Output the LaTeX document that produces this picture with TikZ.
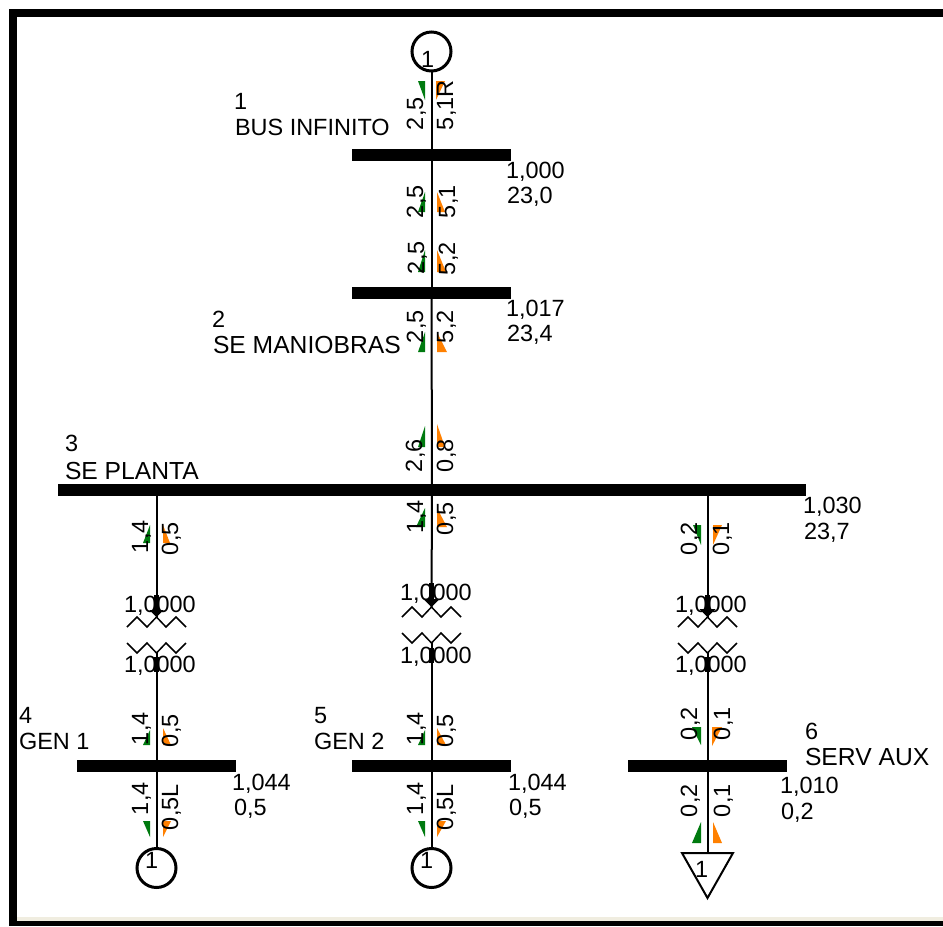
\documentclass[tikz,border=0pt]{standalone}
\usepackage{fontspec}
\setmainfont{Liberation Sans}
\usetikzlibrary{arrows.meta}
\newlength{\du}
\setlength{\du}{0.75pt}
\definecolor{flowgreen}{rgb}{0.000000, 0.480000, 0.060000}
\definecolor{floworange}{rgb}{1.000000, 0.500000, 0.000000}
\definecolor{stripcolor}{rgb}{0.940000, 0.930000, 0.880000}
\tikzset{
  busbar/.style={fill=black,inner sep=0pt,outer sep=0pt,minimum width=159\du,minimum height=12\du},
  machine/.style={circle,draw=black,line width=3\du,fill=none,inner sep=0pt,outer sep=0pt,minimum size=39\du},
  feeder/.style={draw=black,line width=2\du},
  winding/.style={draw=black,line width=1.5\du},
  tapmark/.style={draw=black,line width=5\du},
  tapside/.style={tapmark,-{Triangle[width=10.5pt,length=5.25pt]}},
  tapmid/.style={tapmark,-{Triangle[width=12pt,length=6pt]}},
  labeltext/.style={anchor=base west,inner sep=0pt,outer sep=0pt,font=\fontsize{17.6}{19}\selectfont},
  nametext/.style={labeltext,font=\fontsize{18.5}{20}\selectfont},
  flowtext/.style={labeltext,rotate=90},
}
\begin{document}
\begin{tikzpicture}[x=\du,y=-\du]
\useasboundingbox (0,0) rectangle (943,926);
% frame
\fill[stripcolor] (17,917) rectangle (943,921);
\fill[black] (9,9) rectangle (943,17);
\fill[black] (9,9) rectangle (17,926);
\fill[black] (9,921) rectangle (943,926);
% flows
\fill[flowgreen] (418,81) -- (425,81) -- (425,100) -- cycle;
\fill[floworange] (436,81) -- (445,81) -- (436,100) -- cycle;
\fill[flowgreen] (425,192) -- (425,212) -- (418,212) -- cycle;
\fill[floworange] (437,192) -- (445,212) -- (437,212) -- cycle;
\fill[flowgreen] (425,250) -- (425,272) -- (418,272) -- cycle;
\fill[floworange] (437,250) -- (446,272) -- (437,272) -- cycle;
\fill[flowgreen] (425,332) -- (425,352) -- (418,352) -- cycle;
\fill[floworange] (437,332) -- (447,352) -- (437,352) -- cycle;
\fill[flowgreen] (425,426) -- (425,447) -- (418,447) -- cycle;
\fill[floworange] (437,424) -- (445,447) -- (437,447) -- cycle;
\fill[flowgreen] (425,508) -- (425,527) -- (416,527) -- cycle;
\fill[floworange] (437,508) -- (447,527) -- (437,527) -- cycle;
\fill[flowgreen] (150,525) -- (150,543) -- (143,543) -- cycle;
\fill[floworange] (163,525) -- (170,543) -- (163,543) -- cycle;
\fill[flowgreen] (693,525) -- (701,525) -- (701,545) -- cycle;
\fill[floworange] (713,525) -- (722,525) -- (713,545) -- cycle;
\fill[flowgreen] (150,730) -- (150,745) -- (143,745) -- cycle;
\fill[floworange] (163,728) -- (171,745) -- (163,745) -- cycle;
\fill[flowgreen] (425,730) -- (425,745) -- (418,745) -- cycle;
\fill[floworange] (437,728) -- (446,745) -- (437,745) -- cycle;
\fill[flowgreen] (692,727) -- (701,727) -- (701,745) -- cycle;
\fill[floworange] (712,727) -- (722,727) -- (712,746) -- cycle;
\fill[flowgreen] (143,821) -- (150,821) -- (150,837) -- cycle;
\fill[floworange] (163,821) -- (171,821) -- (163,837) -- cycle;
\fill[flowgreen] (418,821) -- (425,821) -- (425,837) -- cycle;
\fill[floworange] (437,821) -- (446,821) -- (437,837) -- cycle;
\fill[flowgreen] (701,822) -- (701,843) -- (692,843) -- cycle;
\fill[floworange] (713,822) -- (722,843) -- (713,843) -- cycle;
% buses and machines
\node[busbar] (bus1) at (431.5,155) {};
\node[busbar] (bus2) at (431.5,292.5) {};
\node[busbar,minimum width=748\du] (bus3) at (432,490) {};
\node[busbar] (bus4) at (156.5,766) {};
\node[busbar] (bus5) at (431.5,766) {};
\node[busbar] (bus6) at (707.5,766) {};
\node[machine] (gen0) at (431.5,51.5) {};
\node[machine] (gen1) at (156.5,868) {};
\node[machine] (gen2) at (431.5,868) {};
\coordinate (load6) at (707.5,853);
\draw[feeder,line join=miter] (682,853) -- (733,853) -- (707.5,898) -- cycle;
% transformers
\coordinate (xfa1) at (156.5,617);
\coordinate (xfb1) at (156.5,653);
\coordinate (xfa2) at (431.5,607);
\coordinate (xfb2) at (431.5,643);
\coordinate (xfa3) at (707.5,617);
\coordinate (xfb3) at (707.5,653);
\coordinate (tapa1) at (156.5,595);
\coordinate (tapa2) at (431.5,583);
\coordinate (tapa3) at (707.5,595);
\coordinate (tapb1) at (156.5,672);
\coordinate (tapb1s) at (156.5,657);
\coordinate (tapb2) at (431.5,663);
\coordinate (tapb2s) at (431.5,648);
\coordinate (tapb3) at (707.5,672);
\coordinate (tapb3s) at (707.5,657);
\draw[winding] (127,627) -- (137,617) -- (147,627) -- (156.5,617) -- (166,627) -- (176,617) -- (186,627);
\draw[winding] (127,643) -- (137,653) -- (147,643) -- (156.5,653) -- (166,643) -- (176,653) -- (186,643);
\draw[winding] (402,617) -- (412,607) -- (422,617) -- (431.5,607) -- (441,617) -- (451,607) -- (461,617);
\draw[winding] (402,633) -- (412,643) -- (422,633) -- (431.5,643) -- (441,633) -- (451,643) -- (461,633);
\draw[winding] (678,627) -- (688,617) -- (698,627) -- (707.5,617) -- (717,627) -- (727,617) -- (737,627);
\draw[winding] (678,643) -- (688,653) -- (698,643) -- (707.5,653) -- (717,643) -- (727,653) -- (737,643);
% lines
\draw[feeder] (gen0) -- (bus1);
\draw[feeder] (bus1) -- (bus2);
\draw[feeder] (bus2) -- (bus3);
\draw[feeder] (bus3.south -| xfa1) -- (xfa1);
\draw[feeder] (bus3) -- (xfa2);
\draw[feeder] (bus3.south -| xfa3) -- (xfa3);
\draw[feeder] (xfb1) -- (bus4);
\draw[feeder] (xfb2) -- (bus5);
\draw[feeder] (xfb3) -- (bus6);
\draw[feeder] (bus4) -- (gen1);
\draw[feeder] (bus5) -- (gen2);
\draw[feeder] (bus6) -- (load6);
\draw[tapside] (tapa1) -- (xfa1);
\draw[tapmid] (tapa2) -- (xfa2);
\draw[tapmid] (tapa3) -- (xfa3);
\draw[tapmark] (tapb1s) -- (tapb1);
\draw[tapmark] (tapb2s) -- (tapb2);
\draw[tapmark] (tapb3s) -- (tapb3);
% bus labels
\node[labeltext] (num1) at (234,109) {1};
\node[labeltext] (name1) at (235,135) {BUS INFINITO};
\node[labeltext] (volt1) at (506,178) {1,000};
\node[labeltext] (ang1) at (507,203) {23,0};
\node[labeltext] (num2) at (212,327) {2};
\node[nametext] (name2) at (213,353) {SE MANIOBRAS};
\node[labeltext] (volt2) at (506,316) {1,017};
\node[labeltext] (ang2) at (507,341) {23,4};
\node[labeltext] (num3) at (65,451) {3};
\node[nametext] (name3) at (65,479) {SE PLANTA};
\node[labeltext] (volt3) at (803,513) {1,030};
\node[labeltext] (ang3) at (804,539) {23,7};
\node[labeltext] (num4) at (19,723) {4};
\node[labeltext] (name4) at (19,749) {GEN 1};
\node[labeltext] (volt4) at (232,790) {1,044};
\node[labeltext] (ang4) at (234,815) {0,5};
\node[labeltext] (num5) at (314,723) {5};
\node[labeltext] (name5) at (314,749) {GEN 2};
\node[labeltext] (volt5) at (508,790) {1,044};
\node[labeltext] (ang5) at (509,815) {0,5};
\node[labeltext] (num6) at (805,739) {6};
\node[nametext] (name6) at (805,765) {SERV AUX};
\node[labeltext] (volt6) at (780,793) {1,010};
\node[labeltext] (ang6) at (781,819) {0,2};
% machine labels
\node[labeltext] (idgen0) at (421,67) {1};
\node[labeltext] (idgen1) at (145,868) {1};
\node[labeltext] (idgen2) at (420,868) {1};
\node[labeltext] (idload6) at (695,877) {1};
% tap labels
\node[labeltext] (tapup1) at (124,612) {1,0000};
\node[labeltext] (tapup2) at (400,600) {1,0000};
\node[labeltext] (tapup3) at (675,612) {1,0000};
\node[labeltext] (taplo1) at (124,672) {1,0000};
\node[labeltext] (taplo2) at (400,663) {1,0000};
\node[labeltext] (taplo3) at (675,672) {1,0000};
% flow labels
\node[flowtext] (pa1) at (423,130) {2,5};
\node[flowtext] (qa1) at (453,130) {5,1R};
\node[flowtext] (pa2) at (423,218) {2,5};
\node[flowtext] (qa2) at (455,218) {5,1};
\node[flowtext] (pa3) at (424,274) {2,5};
\node[flowtext] (qa3) at (455,275) {5,2};
\node[flowtext] (pa4) at (423,343) {2,5};
\node[flowtext] (qa4) at (453,343) {5,2};
\node[flowtext] (pa5) at (422,472) {2,6};
\node[flowtext] (qa5) at (453,472) {0,8};
\node[flowtext] (pb1) at (148,553) {1,4};
\node[flowtext] (qb1) at (178,555) {0,5};
\node[flowtext] (pb2) at (423,533) {1,4};
\node[flowtext] (qb2) at (453,535) {0,5};
\node[flowtext] (pb3) at (697,555) {0,2};
\node[flowtext] (qb3) at (729,555) {0,1};
\node[flowtext] (pc1) at (148,745) {1,4};
\node[flowtext] (qc1) at (178,747) {0,5};
\node[flowtext] (pc2) at (423,745) {1,4};
\node[flowtext] (qc2) at (453,747) {0,5};
\node[flowtext] (pc3) at (697,740) {0,2};
\node[flowtext] (qc3) at (730,740) {0,1};
\node[flowtext] (pd1) at (148,815) {1,4};
\node[flowtext] (qd1) at (178,830) {0,5L};
\node[flowtext] (pd2) at (423,815) {1,4};
\node[flowtext] (qd2) at (453,830) {0,5L};
\node[flowtext] (pd3) at (697,817) {0,2};
\node[flowtext] (qd3) at (730,817) {0,1};
\end{tikzpicture}
\end{document}
